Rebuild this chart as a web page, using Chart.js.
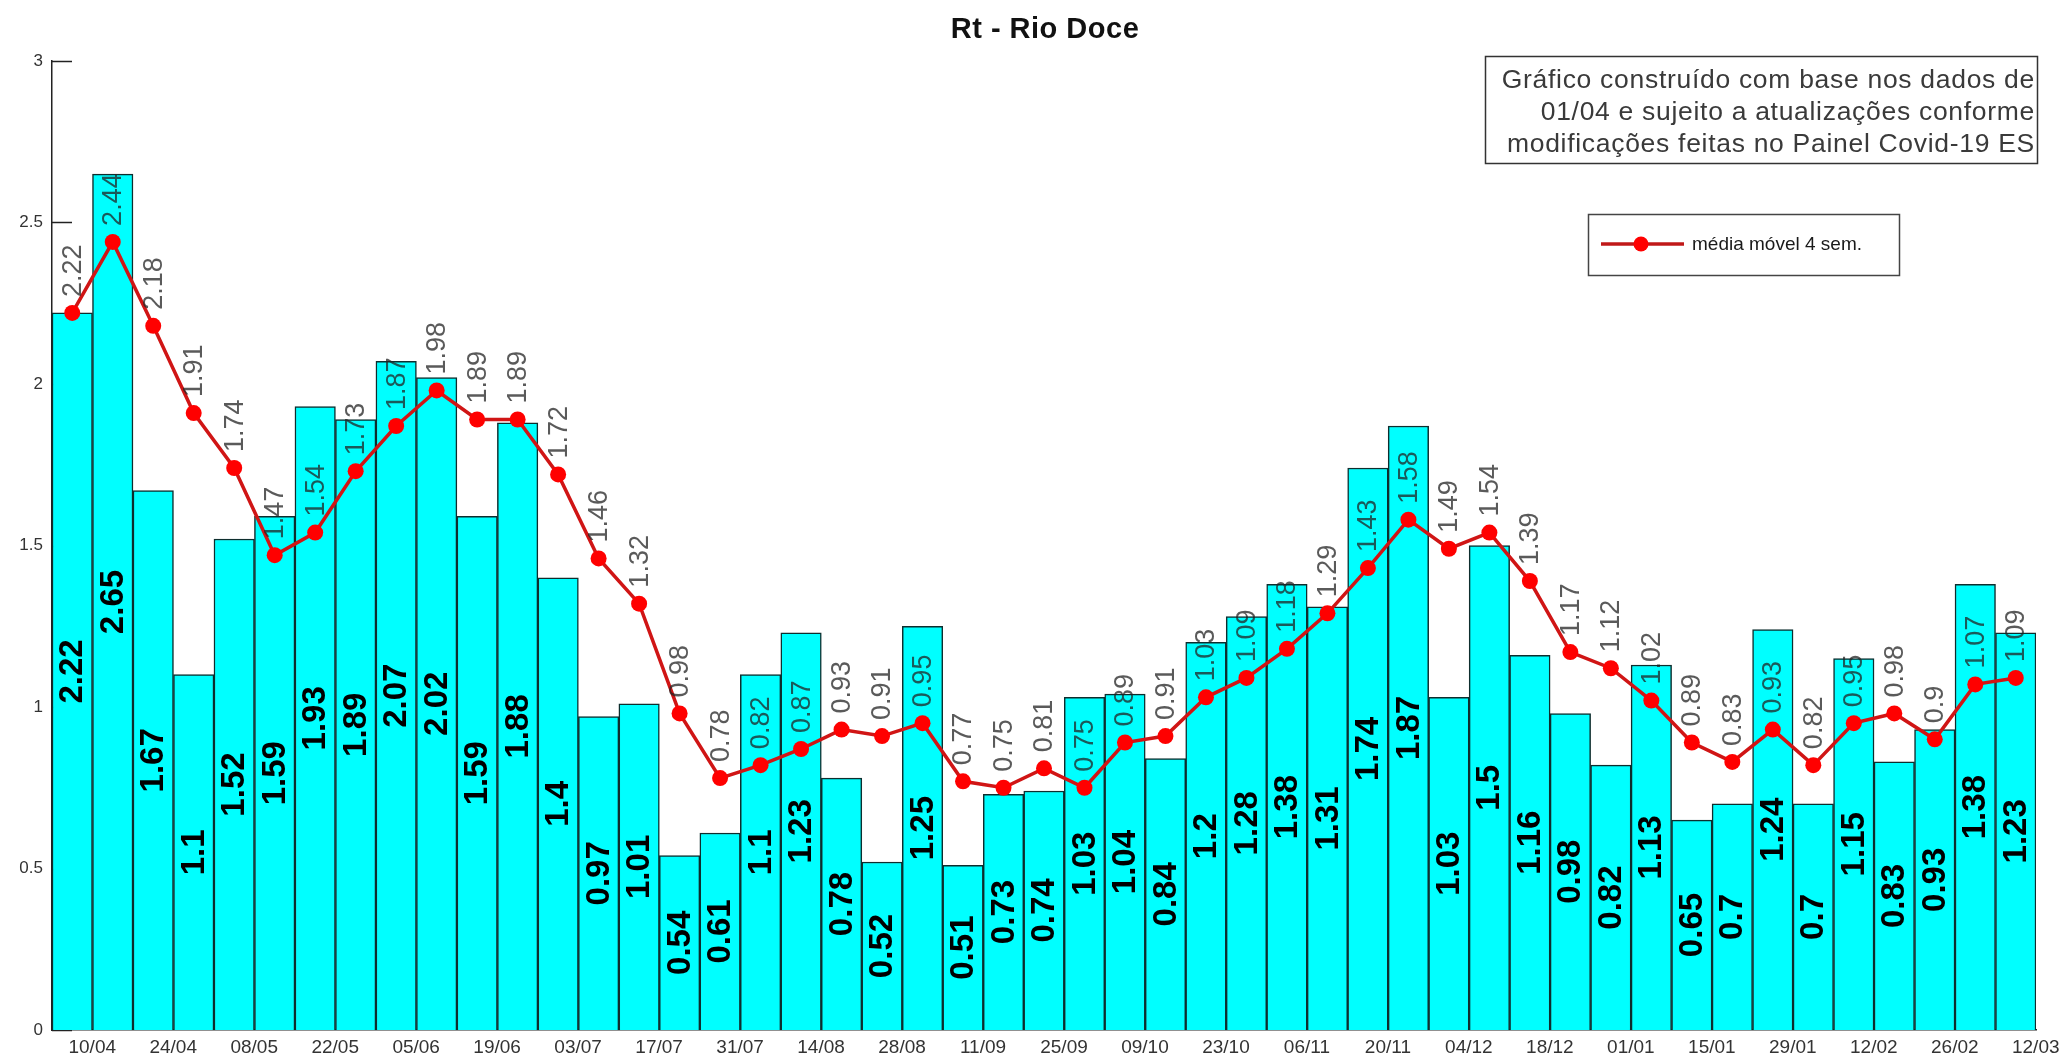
<!DOCTYPE html>
<html>
<head>
<meta charset="utf-8">
<script src="https://cdn.jsdelivr.net/npm/chart.js@4.4.1/dist/chart.umd.min.js"></script>
<style>
  html, body { margin: 0; padding: 0; background: #ffffff; }
  canvas { display: block; }
</style>
</head>
<body>
<canvas id="c" width="2063" height="1059"></canvas>
<script>
// ---- data ----
const categories = ["10/04","17/04","24/04","01/05","08/05","15/05","22/05","29/05","05/06","12/06",
  "19/06","26/06","03/07","10/07","17/07","24/07","31/07","07/08","14/08","21/08",
  "28/08","04/09","11/09","18/09","25/09","02/10","09/10","16/10","23/10","30/10",
  "06/11","13/11","20/11","27/11","04/12","11/12","18/12","25/12","01/01","08/01",
  "15/01","22/01","29/01","05/02","12/02","19/02","26/02","05/03","12/03"];
const rtWeekly = [2.22, 2.65, 1.67, 1.1, 1.52, 1.59, 1.93, 1.89, 2.07, 2.02,
  1.59, 1.88, 1.4, 0.97, 1.01, 0.54, 0.61, 1.1, 1.23, 0.78,
  0.52, 1.25, 0.51, 0.73, 0.74, 1.03, 1.04, 0.84, 1.2, 1.28,
  1.38, 1.31, 1.74, 1.87, 1.03, 1.5, 1.16, 0.98, 0.82, 1.13,
  0.65, 0.7, 1.24, 0.7, 1.15, 0.83, 0.93, 1.38, 1.23];
const movingAvg4 = [2.22, 2.44, 2.18, 1.91, 1.74, 1.47, 1.54, 1.73, 1.87, 1.98,
  1.89, 1.89, 1.72, 1.46, 1.32, 0.98, 0.78, 0.82, 0.87, 0.93,
  0.91, 0.95, 0.77, 0.75, 0.81, 0.75, 0.89, 0.91, 1.03, 1.09,
  1.18, 1.29, 1.43, 1.58, 1.49, 1.54, 1.39, 1.17, 1.12, 1.02,
  0.89, 0.83, 0.93, 0.82, 0.95, 0.98, 0.9, 1.07, 1.09];
const yTickValues = [0, 0.5, 1, 1.5, 2, 2.5, 3];
const titleText = "Rt - Rio Doce";
const legendText = "média móvel 4 sem.";
const noteLines = ["Gráfico construído com base nos dados de",
  "01/04 e sujeito a atualizações conforme",
  "modificações feitas no Painel Covid-19 ES"];

const FONT = '"Liberation Sans", Arial, Helvetica, sans-serif';

const decorPlugin = {
  id: 'decor',
  beforeDatasetsDraw(chart) {
    const ctx = chart.ctx;
    const y = chart.scales.y;
    const left = chart.chartArea.left;
    ctx.save();
    ctx.strokeStyle = '#222';
    ctx.lineWidth = 1.5;
    yTickValues.forEach(v => {
      const py = Math.round(y.getPixelForValue(v)) + 0.5;
      ctx.beginPath();
      ctx.moveTo(left, py);
      ctx.lineTo(left + 20, py);
      ctx.stroke();
    });
    ctx.restore();
  },
  afterDatasetsDraw(chart) {
    const ctx = chart.ctx;
    const yS = chart.scales.y;
    const barMeta = chart.getDatasetMeta(1);
    const lineMeta = chart.getDatasetMeta(0);
    ctx.save();
    // bar value labels (rotated, centred at half height)
    ctx.fillStyle = '#000';
    ctx.font = 'bold 33px ' + FONT;
    ctx.textAlign = 'center';
    ctx.textBaseline = 'middle';
    barMeta.data.forEach((el, i) => {
      const v = rtWeekly[i];
      const py = yS.getPixelForValue(v / 2);
      ctx.save();
      ctx.translate(el.x + 1, py);
      ctx.rotate(-Math.PI / 2);
      ctx.fillText(String(v), 0, 0);
      ctx.restore();
    });
    // moving-average labels (rotated, above the point)
    ctx.fillStyle = 'rgba(35,35,35,0.75)';
    ctx.font = '27px ' + FONT;
    ctx.textAlign = 'left';
    ctx.textBaseline = 'middle';
    lineMeta.data.forEach((pt, i) => {
      ctx.save();
      ctx.translate(pt.x + 1, pt.y - 16);
      ctx.rotate(-Math.PI / 2);
      ctx.fillText(String(movingAvg4[i]), 0, 0);
      ctx.restore();
    });
    ctx.restore();
  },
  afterDraw(chart) {
    const ctx = chart.ctx;
    ctx.save();
    // title
    ctx.fillStyle = '#111';
    ctx.font = 'bold 29px ' + FONT;
    ctx.letterSpacing = '0.5px';
    ctx.textAlign = 'center';
    ctx.textBaseline = 'alphabetic';
    ctx.fillText(titleText, 1045, 38);
    // note box
    ctx.letterSpacing = '0.7px';
    ctx.fillStyle = '#fff';
    ctx.fillRect(1485, 56, 553, 107);
    ctx.strokeStyle = '#333';
    ctx.lineWidth = 1.5;
    ctx.strokeRect(1485.5, 56.5, 552, 107);
    ctx.fillStyle = '#3a3a3a';
    ctx.font = '26.5px ' + FONT;
    ctx.textAlign = 'right';
    const bases = [88, 120, 152];
    noteLines.forEach((t, i) => ctx.fillText(t, 2035, bases[i]));
    // legend box
    ctx.letterSpacing = '0px';
    ctx.fillStyle = '#fff';
    ctx.fillRect(1588, 214, 312, 61);
    ctx.strokeStyle = '#444';
    ctx.lineWidth = 1.5;
    ctx.strokeRect(1588.5, 214.5, 311, 61);
    ctx.strokeStyle = '#c01818';
    ctx.lineWidth = 3.5;
    ctx.beginPath();
    ctx.moveTo(1601, 244);
    ctx.lineTo(1684, 244);
    ctx.stroke();
    ctx.fillStyle = '#ff0000';
    ctx.beginPath();
    ctx.arc(1641, 244, 7.5, 0, Math.PI * 2);
    ctx.fill();
    ctx.fillStyle = '#1a1a1a';
    ctx.font = '19px ' + FONT;
    ctx.textAlign = 'left';
    ctx.textBaseline = 'middle';
    ctx.fillText(legendText, 1692, 245);
    ctx.restore();
  }
};

new Chart(document.getElementById('c'), {
  type: 'bar',
  data: {
    labels: categories,
    datasets: [
      {
        type: 'line',
        label: legendText,
        data: movingAvg4,
        order: 0,
        borderColor: '#d01515',
        borderWidth: 3.5,
        pointRadius: 8,
        pointBackgroundColor: '#ff0000',
        pointBorderColor: '#ff0000',
        pointBorderWidth: 0,
        tension: 0,
        fill: false
      },
      {
        type: 'bar',
        label: 'Rt',
        data: rtWeekly,
        order: 1,
        backgroundColor: '#00ffff',
        borderColor: '#0e2e2e',
        borderWidth: 1.5,
        borderSkipped: 'bottom',
        barPercentage: 1,
        categoryPercentage: 1
      }
    ]
  },
  options: {
    responsive: false,
    devicePixelRatio: 1,
    animation: false,
    layout: { padding: { left: 0, right: 27, top: 61, bottom: 0 } },
    plugins: {
      legend: { display: false },
      title: { display: false },
      tooltip: { enabled: false }
    },
    scales: {
      x: {
        offset: true,
        grid: { display: false, drawTicks: false },
        border: { display: true, color: '#222', width: 1.5 },
        ticks: {
          autoSkip: false,
          maxRotation: 0,
          minRotation: 0,
          labelOffset: 20,
          padding: 6,
          color: '#333',
          font: { family: FONT, size: 19 },
          callback: (val, i) => (i % 2 === 0 ? categories[i] : '')
        },
        afterFit: s => { s.height = 29; }
      },
      y: {
        min: 0,
        max: 3,
        grid: { display: false, drawTicks: false },
        border: { display: true, color: '#222', width: 1.5 },
        afterBuildTicks: s => { s.ticks = yTickValues.map(v => ({ value: v })); },
        ticks: {
          padding: 9,
          color: '#333',
          font: { family: FONT, size: 17 },
          callback: v => String(v)
        },
        afterFit: s => { s.width = 52; }
      }
    }
  },
  plugins: [decorPlugin]
});
</script>
</body>
</html>
